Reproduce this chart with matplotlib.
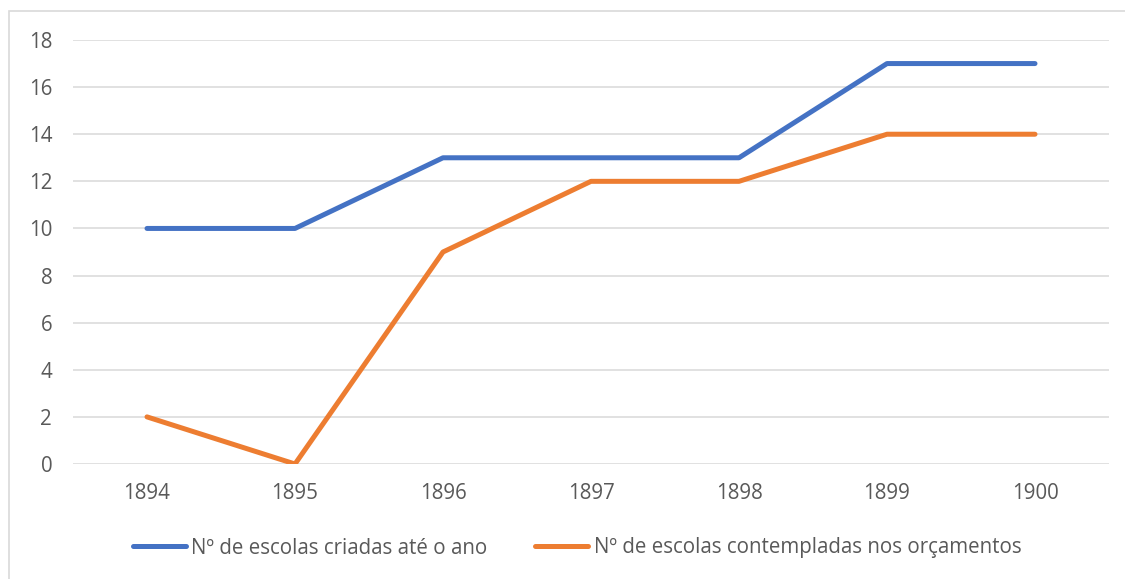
import matplotlib.pyplot as plt
from matplotlib.patches import Rectangle

years = ['1894', '1895', '1896', '1897', '1898', '1899', '1900']
criadas = [10, 10, 13, 13, 13, 17, 17]
contempladas = [2, 0, 9, 12, 12, 14, 14]
labels = ['Nº de escolas criadas até o ano', 'Nº de escolas contempladas nos orçamentos']
colors = ['#4472C4', '#ED7D31']

plt.rcParams['font.family'] = ['Open Sans', 'DejaVu Sans']
TXT = '#595959'

fig = plt.figure(figsize=(11.25, 5.79), dpi=100)
ax = fig.add_axes([73/1125, 1-464/579, (1109-73)/1125, (464-40)/579])

x = range(len(years))
ax.plot(x, criadas, color=colors[0], lw=3.6, solid_capstyle='round', label=labels[0], zorder=3)
ax.plot(x, contempladas, color=colors[1], lw=3.6, solid_capstyle='round', label=labels[1], zorder=3)

ax.set_xlim(-0.5, len(years)-0.5)
ax.set_ylim(0, 18)
ax.set_yticks(range(0, 19, 2))
ax.set_xticks(list(x))
ax.set_xticklabels(years)
ax.grid(axis='y', color='#D9D9D9', lw=1.1)
ax.set_axisbelow(True)
for s in ax.spines.values():
    s.set_visible(False)
ax.tick_params(length=0, labelsize=14.8, colors=TXT)
ax.tick_params(axis='x', pad=14)
ax.tick_params(axis='y', pad=15)

# chart area border
fig.patches.append(Rectangle((9/1125, -0.05), 1.1, 1-11/579+0.05, transform=fig.transFigure,
                             fill=False, edgecolor='#D9D9D9', lw=1.2))

fig.legend(loc='center', bbox_to_anchor=(577/1125, 1-548/579), ncol=2, frameon=False,
           fontsize=14.8, labelcolor=TXT, handlelength=2.6, handletextpad=0.25,
           columnspacing=2.3)

fig.savefig('out.png', dpi=100)
